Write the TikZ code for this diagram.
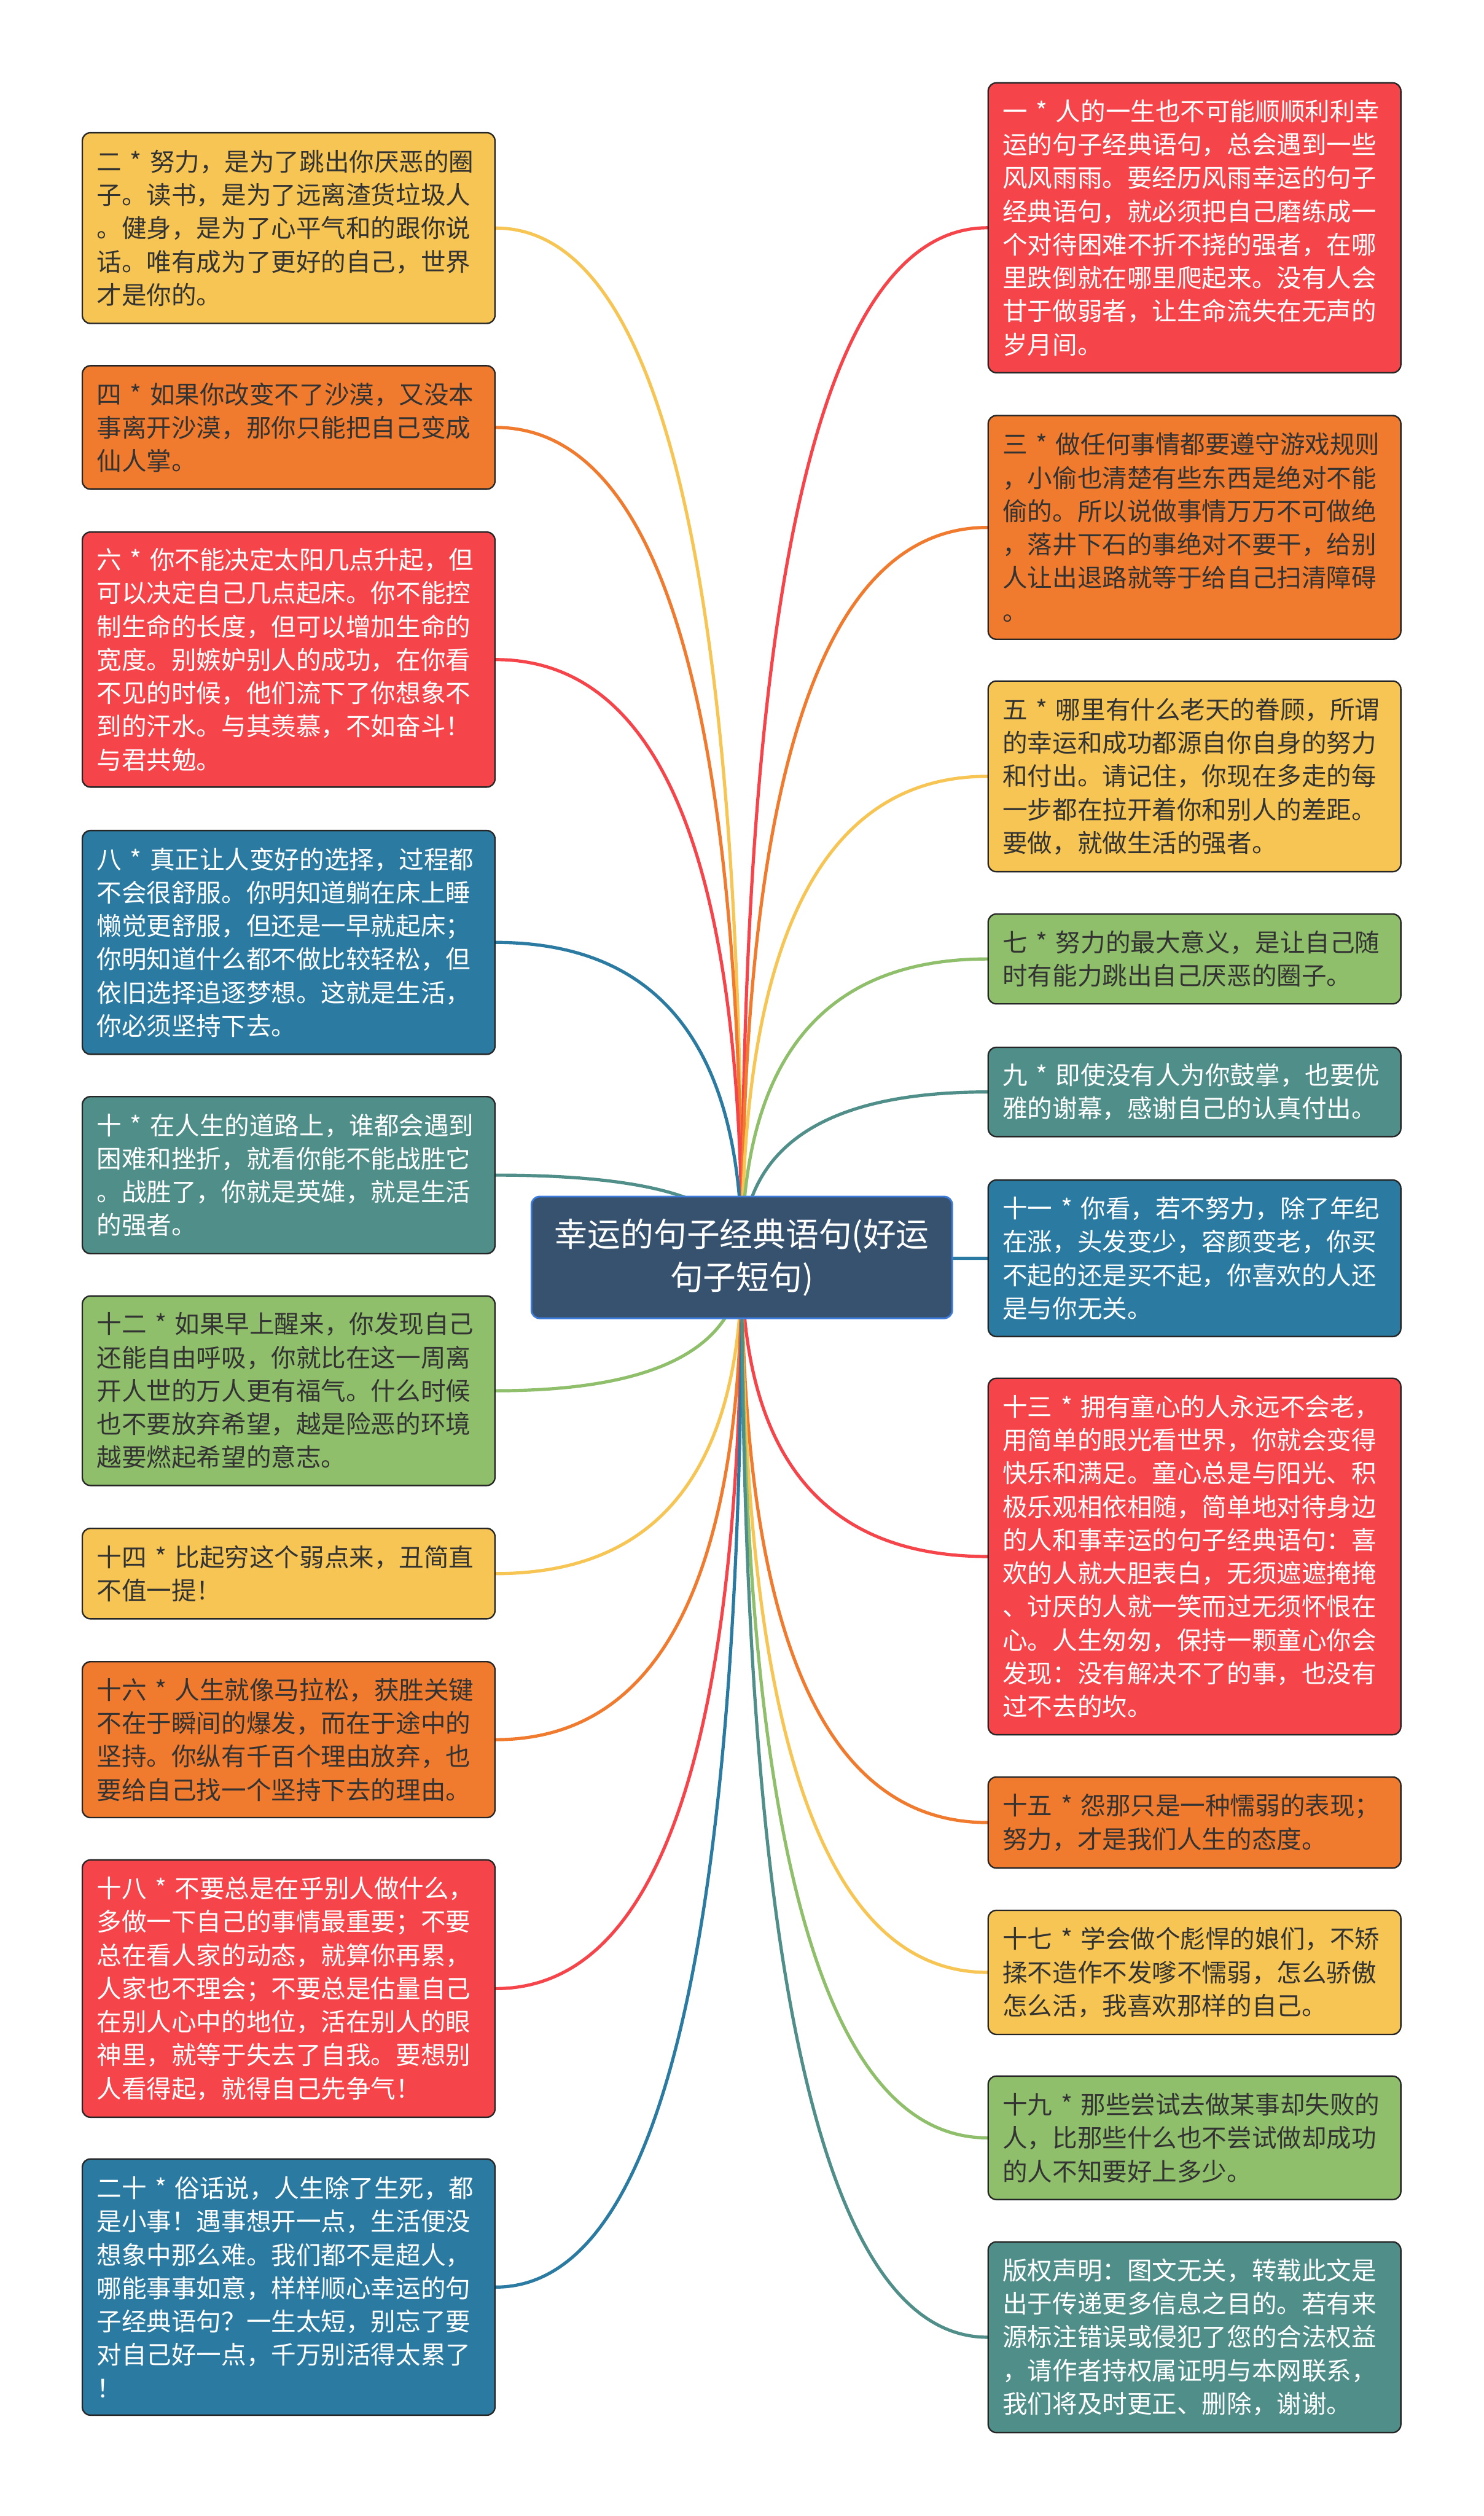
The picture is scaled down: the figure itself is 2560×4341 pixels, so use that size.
\documentclass[tikz,border=0pt]{standalone}
\usepackage{fontspec}
\setmainfont{Noto Sans CJK SC}
\usetikzlibrary{calc,backgrounds}
\definecolor{cR}{HTML}{F5444A}
\definecolor{cO}{HTML}{F07A2E}
\definecolor{cY}{HTML}{F7C553}
\definecolor{cG}{HTML}{8FBF6B}
\definecolor{cT}{HTML}{4F8E89}
\definecolor{cB}{HTML}{2A7AA1}
\definecolor{cRoot}{HTML}{36526E}
\definecolor{cRootLine}{HTML}{3C7BDB}
\definecolor{txt}{HTML}{333333}
\tikzset{
  leaf/.style={draw=black!85, line width=2.5pt, rounded corners=14pt,
    minimum width=712pt, inner xsep=25pt, inner ysep=0pt, text width=662pt,
    align=left, font=\fontsize{43}{57.5}\selectfont, anchor=center},
  fR/.style={fill=cR, text=white},
  fO/.style={fill=cO, text=txt},
  fY/.style={fill=cY, text=txt},
  fG/.style={fill=cG, text=txt},
  fT/.style={fill=cT, text=white},
  fB/.style={fill=cB, text=white},
  rootbox/.style={fill=cRoot, draw=cRootLine, line width=3pt, rounded corners=14pt,
    minimum width=726pt, minimum height=210pt, inner sep=0pt, text=white,
    align=center, font=\fontsize{57}{75}\selectfont},
  conn/.style={line width=5.5pt, line cap=round},
}
\newcommand\mmbox[6]{\node[leaf,#5,minimum height={#4-#3}] (#1) at ({#2+356},{(#3+#4)/2}) {#6};}
\begin{document}
\begin{tikzpicture}[x=1pt,y=-1pt]
\useasboundingbox (0,0) rectangle (2560,4341);

\node[rootbox] (root) at (1280,2169.5) {幸运的句子经典语句(好运\\句子短句)};

% left column
\mmbox{L2}{142}{229}{558}{fY}{二 * 努力，是为了跳出你厌恶的圈\\子。读书，是为了远离渣货垃圾人\\。健身，是为了心平气和的跟你说\\话。唯有成为了更好的自己，世界\\才是你的。}
\mmbox{L4}{142}{631}{844}{fO}{四 * 如果你改变不了沙漠，又没本\\事离开沙漠，那你只能把自己变成\\仙人掌。}
\mmbox{L6}{142}{918}{1358}{fR}{六 * 你不能决定太阳几点升起，但\\可以决定自己几点起床。你不能控\\制生命的长度，但可以增加生命的\\宽度。别嫉妒别人的成功，在你看\\不见的时候，他们流下了你想象不\\到的汗水。与其羡慕，不如奋斗！\\与君共勉。}
\mmbox{L8}{142}{1433}{1819}{fB}{八 * 真正让人变好的选择，过程都\\不会很舒服。你明知道躺在床上睡\\懒觉更舒服，但还是一早就起床；\\你明知道什么都不做比较轻松，但\\依旧选择追逐梦想。这就是生活，\\你必须坚持下去。}
\mmbox{L10}{142}{1892}{2163}{fT}{十 * 在人生的道路上，谁都会遇到\\困难和挫折，就看你能不能战胜它\\。战胜了，你就是英雄，就是生活\\的强者。}
\mmbox{L12}{142}{2236}{2563}{fG}{十二 * 如果早上醒来，你发现自己\\还能自由呼吸，你就比在这一周离\\开人世的万人更有福气。什么时候\\也不要放弃希望，越是险恶的环境\\越要燃起希望的意志。}
\mmbox{L14}{142}{2637}{2793}{fY}{十四 * 比起穷这个弱点来，丑简直\\不值一提！}
\mmbox{L16}{142}{2867}{3136}{fO}{十六 * 人生就像马拉松，获胜关键\\不在于瞬间的爆发，而在于途中的\\坚持。你纵有千百个理由放弃，也\\要给自己找一个坚持下去的理由。}
\mmbox{L18}{142}{3209}{3653}{fR}{十八 * 不要总是在乎别人做什么，\\多做一下自己的事情最重要；不要\\总在看人家的动态，就算你再累，\\人家也不理会；不要总是估量自己\\在别人心中的地位，活在别人的眼\\神里，就等于失去了自我。要想别\\人看得起，就得自己先争气！}
\mmbox{L20}{142}{3725}{4167}{fB}{二十 * 俗话说，人生除了生死，都\\是小事！遇事想开一点，生活便没\\想象中那么难。我们都不是超人，\\哪能事事如意，样样顺心幸运的句\\子经典语句？一生太短，别忘了要\\对自己好一点，千万别活得太累了\\！}

% right column
\mmbox{R1}{1705}{143}{643}{fR}{一 * 人的一生也不可能顺顺利利幸\\运的句子经典语句，总会遇到一些\\风风雨雨。要经历风雨幸运的句子\\经典语句，就必须把自己磨练成一\\个对待困难不折不挠的强者，在哪\\里跌倒就在哪里爬起来。没有人会\\甘于做弱者，让生命流失在无声的\\岁月间。}
\mmbox{R3}{1705}{717}{1103}{fO}{三 * 做任何事情都要遵守游戏规则\\，小偷也清楚有些东西是绝对不能\\偷的。所以说做事情万万不可做绝\\，落井下石的事绝对不要干，给别\\人让出退路就等于给自己扫清障碍\\。}
\mmbox{R5}{1705}{1175}{1504}{fY}{五 * 哪里有什么老天的眷顾，所谓\\的幸运和成功都源自你自身的努力\\和付出。请记住，你现在多走的每\\一步都在拉开着你和别人的差距。\\要做，就做生活的强者。}
\mmbox{R7}{1705}{1577}{1732}{fG}{七 * 努力的最大意义，是让自己随\\时有能力跳出自己厌恶的圈子。}
\mmbox{R9}{1705}{1807}{1961}{fT}{九 * 即使没有人为你鼓掌，也要优\\雅的谢幕，感谢自己的认真付出。}
\mmbox{R11}{1705}{2036}{2306}{fB}{十一 * 你看，若不努力，除了年纪\\在涨，头发变少，容颜变老，你买\\不起的还是买不起，你喜欢的人还\\是与你无关。}
\mmbox{R13}{1705}{2378}{2993}{fR}{十三 * 拥有童心的人永远不会老，\\用简单的眼光看世界，你就会变得\\快乐和满足。童心总是与阳光、积\\极乐观相依相随，简单地对待身边\\的人和事幸运的句子经典语句：喜\\欢的人就大胆表白，无须遮遮掩掩\\、讨厌的人就一笑而过无须怀恨在\\心。人生匆匆，保持一颗童心你会\\发现：没有解决不了的事，也没有\\过不去的坎。}
\mmbox{R15}{1705}{3066}{3223}{fO}{十五 * 怨那只是一种懦弱的表现；\\努力，才是我们人生的态度。}
\mmbox{R17}{1705}{3296}{3510}{fY}{十七 * 学会做个彪悍的娘们，不矫\\揉不造作不发嗲不懦弱，怎么骄傲\\怎么活，我喜欢那样的自己。}
\mmbox{R19}{1705}{3582}{3795}{fG}{十九 * 那些尝试去做某事却失败的\\人，比那些什么也不尝试做却成功\\的人不知要好上多少。}
\mmbox{RC}{1705}{3868}{4197}{fT}{版权声明：图文无关，转载此文是\\出于传递更多信息之目的。若有来\\源标注错误或侵犯了您的合法权益\\，请作者持权属证明与本网联系，\\我们将及时更正、删除，谢谢。}

\begin{pgfonlayer}{background}
\fill[white] (0,0) rectangle (2560,4341);
\foreach \n/\a/\c in {L2/east/cY, L4/east/cO, L6/east/cR, L8/east/cB, L10/east/cT,
  L12/east/cG, L14/east/cY, L16/east/cO, L18/east/cR, L20/east/cB,
  R1/west/cR, R3/west/cO, R5/west/cY, R7/west/cG, R9/west/cT, R11/west/cB,
  R13/west/cR, R15/west/cO, R17/west/cY, R19/west/cG, RC/west/cT}{
  \coordinate (k) at (root.center |- \n.\a);
  \draw[conn,draw=\c] (root.center) .. controls ($(root.center)!0.6667!(k)$) and ($(\n.\a)!0.6667!(k)$) .. (\n.\a);
}
\end{pgfonlayer}
\end{tikzpicture}
\end{document}
